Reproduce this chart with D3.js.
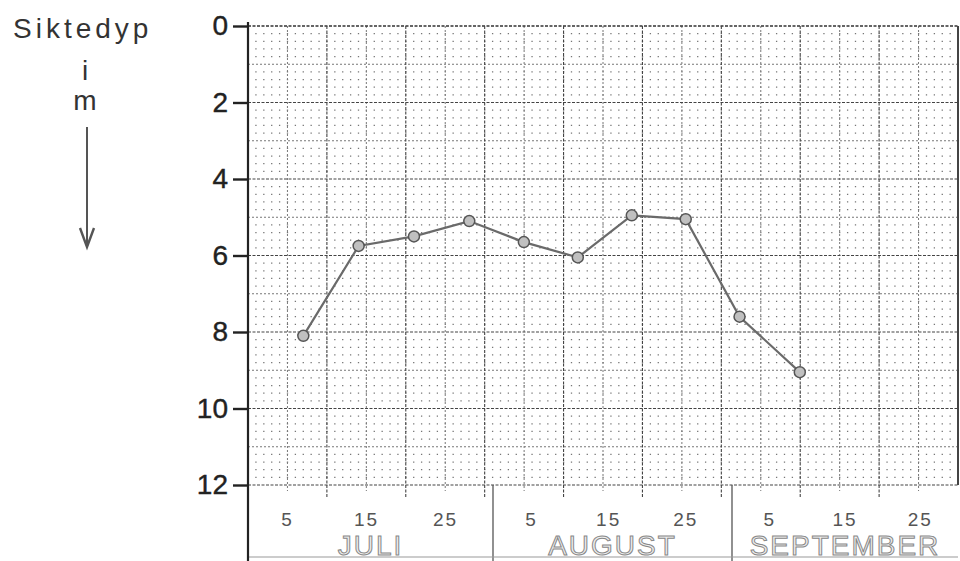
<!DOCTYPE html>
<html>
<head>
<meta charset="utf-8">
<script src="https://cdn.jsdelivr.net/npm/d3@7"></script>
<style>
  body { margin: 0; background: #fff; }
  text { font-family: "Liberation Sans", Arial, sans-serif; }
</style>
</head>
<body>
<div id="chart"></div>
<script>
// months along the bottom and their lengths
const months = ["JULI", "AUGUST", "SEPTEMBER"];
const monthDays = [31, 31, 30];
const dayTicks = [5, 15, 25];
const depthTicks = [0, 2, 4, 6, 8, 10, 12];

// observations: month index, day of month, sight depth (m)
const obsMonth = [0, 0, 0, 0, 1, 1, 1, 1, 2, 2];
const obsDay = [7, 14, 21, 28, 4, 11, 18, 25, 1, 9];
const depth = [8.1, 5.75, 5.5, 5.1, 5.65, 6.05, 4.95, 5.05, 7.6, 9.05];

const width = 960, height = 561;
const plotLeft = 248, plotRight = 958, plotTop = 26, plotBottom = 485;

const svg = d3.select("#chart")
    .append("svg")
    .attr("width", width)
    .attr("height", height);

const monthStart = [0];
monthDays.forEach((d, i) => monthStart.push(monthStart[i] + d));

// days since 1 July -> px (month boundaries as drawn by hand)
const x = d3.scaleLinear()
    .domain(monthStart)
    .range([plotLeft, 493, 732, plotRight]);

const y = d3.scaleLinear()
    .domain([0, 12])
    .range([plotTop, plotBottom]);

// graph paper, mm
const px = d3.scaleLinear().domain([0, 90]).range([plotLeft, plotRight]);

const paper = svg.append("g");

// dots at every mm
const mmStep = px(1) - px(0);
d3.range(0, 12.001, 0.2).forEach(v => {
    if (Math.abs(v - Math.round(v)) < 0.01) return;
    paper.append("line")
        .attr("x1", plotLeft - 0.6).attr("x2", plotRight)
        .attr("y1", y(v)).attr("y2", y(v))
        .attr("stroke", "#777")
        .attr("stroke-width", 1.3)
        .attr("stroke-dasharray", `1.3 ${mmStep - 1.3}`);
});

// half-cm lines
d3.range(1, 12, 2).forEach(v => {
    paper.append("line")
        .attr("x1", plotLeft).attr("x2", plotRight)
        .attr("y1", y(v)).attr("y2", y(v))
        .attr("stroke", "#777").attr("stroke-width", 1)
        .attr("stroke-dasharray", "2 2");
});
d3.range(5, 90, 10).forEach(m => {
    paper.append("line")
        .attr("x1", px(m)).attr("x2", px(m))
        .attr("y1", plotTop).attr("y2", plotBottom + 6)
        .attr("stroke", "#777").attr("stroke-width", 1)
        .attr("stroke-dasharray", "2 2");
});

// cm lines
d3.range(0, 12.001, 2).forEach(v => {
    paper.append("line")
        .attr("x1", plotLeft).attr("x2", plotRight)
        .attr("y1", y(v)).attr("y2", y(v))
        .attr("stroke", v === 0 ? "#333" : "#444")
        .attr("stroke-width", v === 0 ? 1.6 : 1.1)
        .attr("stroke-dasharray", "3 1.5");
});
d3.range(10, 90, 10).forEach(m => {
    paper.append("line")
        .attr("x1", px(m)).attr("x2", px(m))
        .attr("y1", plotTop).attr("y2", plotBottom + 12)
        .attr("stroke", "#444").attr("stroke-width", 1.1)
        .attr("stroke-dasharray", "3 1.5");
});

// paper right edge
svg.append("line")
    .attr("x1", plotRight).attr("x2", plotRight)
    .attr("y1", plotTop).attr("y2", plotBottom)
    .attr("stroke", "#444").attr("stroke-width", 2);

// month separators and bottom line
monthStart.slice(1, -1).forEach(s => {
    svg.append("line")
        .attr("x1", x(s)).attr("x2", x(s))
        .attr("y1", plotBottom).attr("y2", height)
        .attr("stroke", "#555").attr("stroke-width", 1.3);
});
svg.append("line")
    .attr("x1", plotLeft).attr("x2", plotRight)
    .attr("y1", 557).attr("y2", 557)
    .attr("stroke", "#999").attr("stroke-width", 1);

// left axis
const yAxis = svg.append("g")
    .attr("transform", `translate(${plotLeft},0)`)
    .call(d3.axisLeft(y).tickValues(depthTicks).tickSize(15).tickPadding(5));
yAxis.select(".domain").remove();
yAxis.selectAll(".tick line").attr("stroke", "#222").attr("stroke-width", 2.4);
yAxis.selectAll(".tick text")
    .attr("font-family", "Liberation Sans, Arial, sans-serif")
    .attr("font-size", 28)
    .attr("fill", "#222")
    .attr("stroke", "#222")
    .attr("stroke-width", 0.4);

svg.append("line")
    .attr("x1", plotLeft).attr("x2", plotLeft)
    .attr("y1", plotTop - 4).attr("y2", height)
    .attr("stroke", "#222").attr("stroke-width", 2.2);

// day labels and month names
months.forEach((m, i) => {
    dayTicks.forEach(d => {
        svg.append("text")
            .attr("x", x(monthStart[i] + d))
            .attr("y", 526)
            .attr("text-anchor", "middle")
            .attr("font-size", 19)
            .attr("letter-spacing", 2)
            .attr("fill", "#555")
            .text(d);
    });
    svg.append("text")
        .attr("x", x(monthStart[i] + monthDays[i] / 2))
        .attr("y", 555)
        .attr("text-anchor", "middle")
        .attr("font-size", 28)
        .attr("letter-spacing", 2)
        .attr("fill", "#eee")
        .attr("stroke", "#888")
        .attr("stroke-width", 1)
        .text(m);
});

// y title with arrow
const title = svg.append("g")
    .attr("fill", "#333")
    .attr("font-size", 28)
    .attr("font-family", "Liberation Sans, Arial, sans-serif");
title.append("text").attr("x", 13).attr("y", 38)
    .attr("letter-spacing", 4).text("Siktedyp");
title.append("text").attr("x", 85).attr("y", 80)
    .attr("text-anchor", "middle").text("i");
title.append("text").attr("x", 85).attr("y", 110)
    .attr("text-anchor", "middle").text("m");
svg.append("line")
    .attr("x1", 87).attr("x2", 87).attr("y1", 127).attr("y2", 246)
    .attr("stroke", "#555").attr("stroke-width", 2);
svg.append("path")
    .attr("d", "M80,228 L87,247 L94,228")
    .attr("fill", "none").attr("stroke", "#555").attr("stroke-width", 2.4);

// series
const points = depth.map((v, i) => ({
    t: monthStart[obsMonth[i]] + obsDay[i],
    v: v
}));

svg.append("path")
    .datum(points)
    .attr("fill", "none")
    .attr("stroke", "#6a6a6a")
    .attr("stroke-width", 2.2)
    .attr("d", d3.line().x(d => x(d.t)).y(d => y(d.v)));

svg.selectAll(".pt")
    .data(points)
    .enter().append("circle")
    .attr("class", "pt")
    .attr("cx", d => x(d.t))
    .attr("cy", d => y(d.v))
    .attr("r", 5.5)
    .attr("fill", "#c0c0c0")
    .attr("stroke", "#555")
    .attr("stroke-width", 1.5);
</script>
</body>
</html>
